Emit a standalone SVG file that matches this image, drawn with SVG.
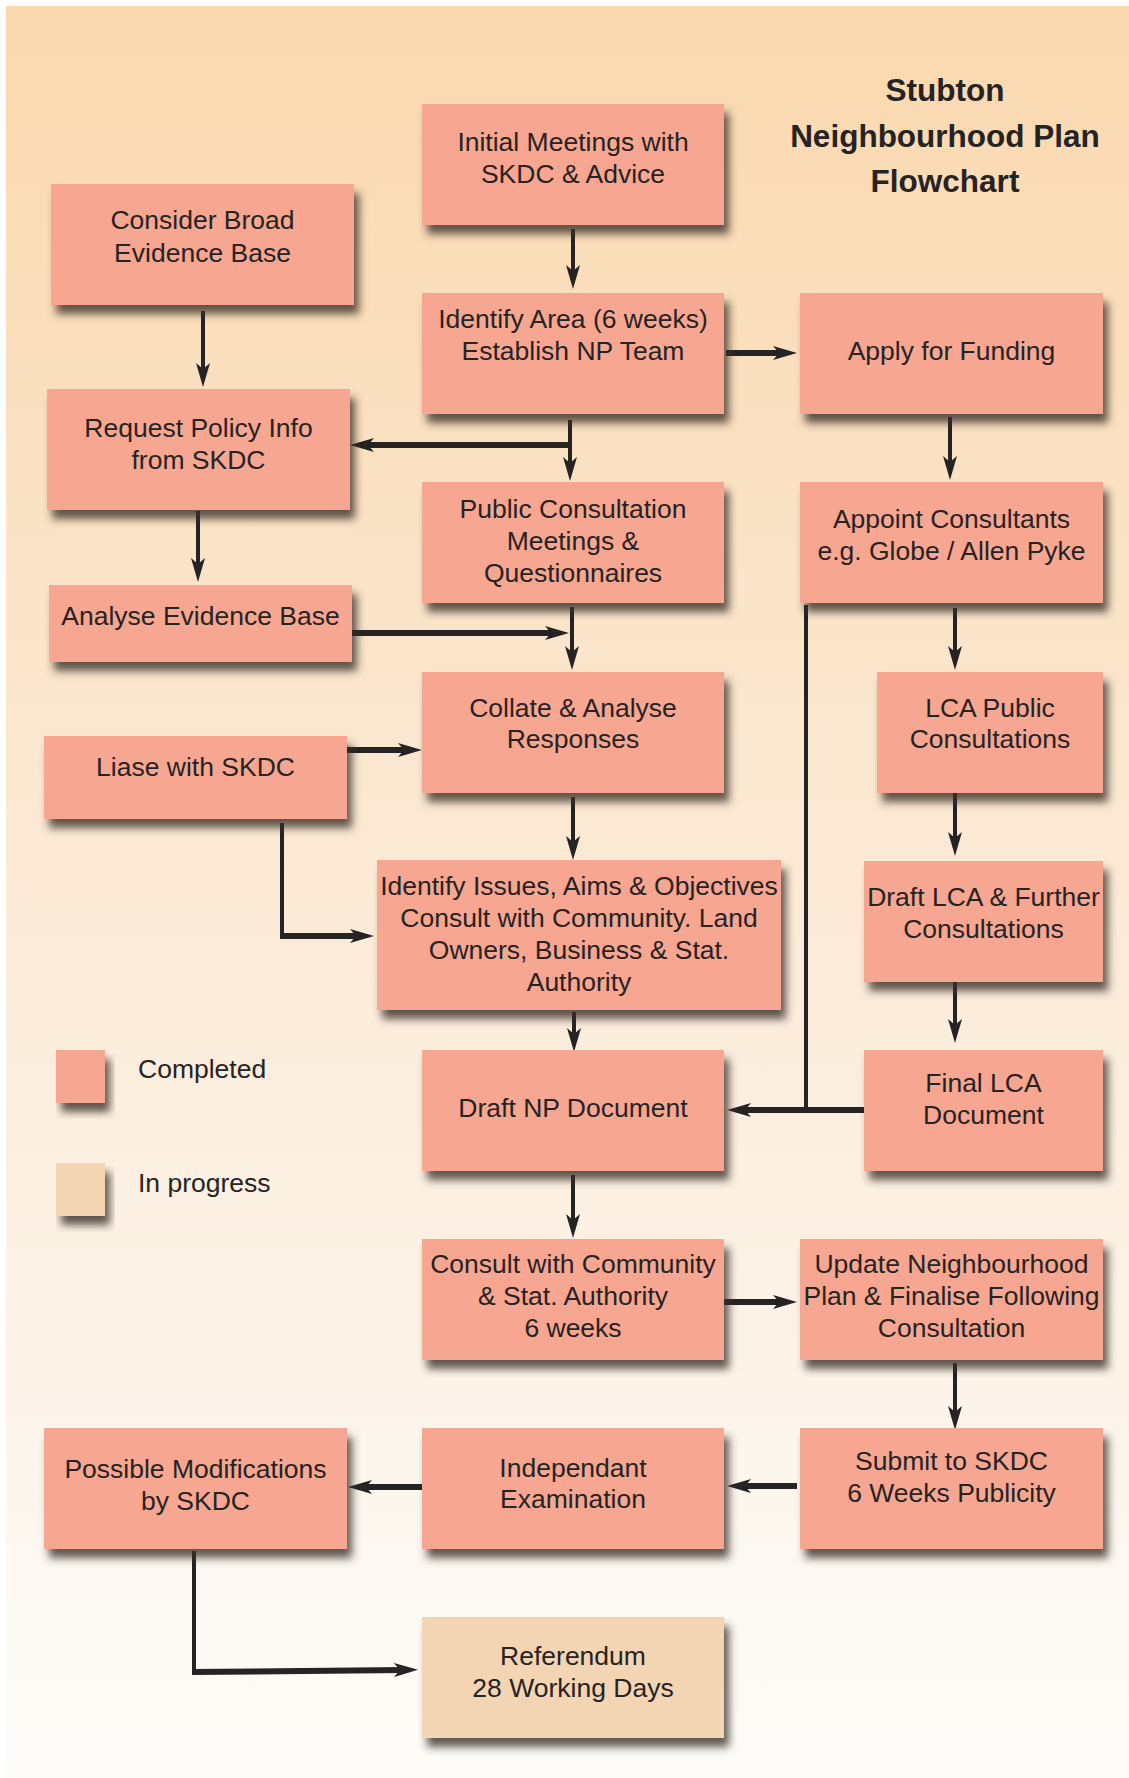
<svg xmlns="http://www.w3.org/2000/svg" width="1129" height="1778" viewBox="0 0 1129 1778">
<defs>
<linearGradient id="bg" x1="0" y1="0" x2="0" y2="1">
<stop offset="0" stop-color="#FAD8AE"/>
<stop offset="0.5" stop-color="#FBEAD6"/>
<stop offset="1" stop-color="#FDFCF9"/>
</linearGradient>
<filter id="sh" x="-10%" y="-10%" width="130%" height="140%">
<feGaussianBlur in="SourceAlpha" stdDeviation="4"/>
<feOffset dx="5" dy="9" result="b"/>
<feFlood flood-color="#3A2F28" flood-opacity="0.8"/>
<feComposite in2="b" operator="in" result="s"/>
<feMerge><feMergeNode in="s"/><feMergeNode in="SourceGraphic"/></feMerge>
</filter>
<marker id="arr" viewBox="0 0 24 14" refX="10" refY="7" markerWidth="24" markerHeight="14" markerUnits="userSpaceOnUse" orient="auto">
<path d="M0,0 L24,7 L0,14 L6,7 Z" fill="#262324"/>
</marker>
</defs>
<style>
.box{fill:#F7A791;filter:url(#sh)}
.prog{fill:#F3D5B3;filter:url(#sh)}
.t{font-family:"Liberation Sans",Arial,sans-serif;font-size:26.5px;fill:#262324;text-anchor:middle}
.lg{font-family:"Liberation Sans",Arial,sans-serif;font-size:26.5px;fill:#262324}
.title{font-family:"Liberation Sans",Arial,sans-serif;font-size:31.5px;font-weight:bold;fill:#262324;text-anchor:middle}
.thin{stroke:#262324;stroke-width:4;fill:none}
.thick{stroke:#262324;stroke-width:6;fill:none}
.ar{marker-end:url(#arr)}
</style>
<rect x="6" y="6" width="1123" height="1772" fill="url(#bg)"/>

<g id="title">
<text class="title" x="945" y="101">Stubton</text>
<text class="title" x="945" y="147">Neighbourhood Plan</text>
<text class="title" x="945" y="192">Flowchart</text>
</g>

<g id="connectors">
<path class="thin ar" d="M573,229 V275"/>
<path class="thin ar" d="M203,311 V373"/>
<path class="thick ar" d="M726,353 H783"/>
<path class="thin ar" d="M570,420 V467"/>
<path class="thick ar" d="M572,445 H364"/>
<path class="thin ar" d="M950,417 V466"/>
<path class="thin ar" d="M198,511 V568"/>
<path class="thin ar" d="M572,607 V656"/>
<path class="thick ar" d="M352,633 H555"/>
<path class="thin ar" d="M955,608 V656"/>
<path class="thin" d="M806,605 V1110"/>
<path class="thick ar" d="M864,1110 H741"/>
<path class="thick ar" d="M347,750 H408"/>
<path class="thin" d="M282,823 V937"/>
<path class="thick ar" d="M280,936 H360"/>
<path class="thin ar" d="M573,797 V846"/>
<path class="thin ar" d="M955,793 V842"/>
<path class="thin ar" d="M574,1012 V1038"/>
<path class="thin ar" d="M955,980 V1029"/>
<path class="thin ar" d="M573,1175 V1224"/>
<path class="thick ar" d="M724,1302 H783"/>
<path class="thin ar" d="M955,1363 V1416"/>
<path class="thick ar" d="M797,1486 H741"/>
<path class="thick ar" d="M422,1487 H362"/>
<path class="thin" d="M194,1551 V1673"/>
<path class="thick ar" d="M192,1672 L404,1670"/>
</g>

<g id="n-initial"><rect class="box" x="422" y="104" width="302" height="121"/>
<text class="t" x="573" y="151">Initial Meetings with</text><text class="t" x="573" y="183">SKDC &amp; Advice</text></g>

<g id="n-consider"><rect class="box" x="51" y="184" width="303" height="121"/>
<text class="t" x="202.5" y="229">Consider Broad</text><text class="t" x="202.5" y="262">Evidence Base</text></g>

<g id="n-identify-area"><rect class="box" x="422" y="293" width="302" height="121"/>
<text class="t" x="573" y="328">Identify Area (6 weeks)</text><text class="t" x="573" y="360">Establish NP Team</text></g>

<g id="n-funding"><rect class="box" x="800" y="293" width="303" height="121"/>
<text class="t" x="951.5" y="360">Apply for Funding</text></g>

<g id="n-request"><rect class="box" x="47" y="389" width="303" height="121"/>
<text class="t" x="198.5" y="437">Request Policy Info</text><text class="t" x="198.5" y="469">from SKDC</text></g>

<g id="n-public"><rect class="box" x="422" y="482" width="302" height="121"/>
<text class="t" x="573" y="518">Public Consultation</text><text class="t" x="573" y="550">Meetings &amp;</text><text class="t" x="573" y="582">Questionnaires</text></g>

<g id="n-appoint"><rect class="box" x="800" y="482" width="303" height="121"/>
<text class="t" x="951.5" y="528">Appoint Consultants</text><text class="t" x="951.5" y="560">e.g. Globe / Allen Pyke</text></g>

<g id="n-analyse"><rect class="box" x="49" y="585" width="303" height="77"/>
<text class="t" x="200.5" y="625">Analyse Evidence Base</text></g>

<g id="n-collate"><rect class="box" x="422" y="672" width="302" height="121"/>
<text class="t" x="573" y="717">Collate &amp; Analyse</text><text class="t" x="573" y="748">Responses</text></g>

<g id="n-lca-public"><rect class="box" x="877" y="672" width="226" height="121"/>
<text class="t" x="990" y="717">LCA Public</text><text class="t" x="990" y="748">Consultations</text></g>

<g id="n-liase"><rect class="box" x="44" y="736" width="303" height="83"/>
<text class="t" x="195.5" y="776">Liase with SKDC</text></g>

<g id="n-issues"><rect class="box" x="377" y="860" width="404" height="150"/>
<text class="t" x="579" y="895">Identify Issues, Aims &amp; Objectives</text><text class="t" x="579" y="927">Consult with Community. Land</text><text class="t" x="579" y="959">Owners, Business &amp; Stat.</text><text class="t" x="579" y="991">Authority</text></g>

<g id="n-draft-lca"><rect class="box" x="864" y="861" width="239" height="121"/>
<text class="t" x="983.5" y="906">Draft LCA &amp; Further</text><text class="t" x="983.5" y="938">Consultations</text></g>

<g id="n-draft-np"><rect class="box" x="422" y="1050" width="302" height="121"/>
<text class="t" x="573" y="1117">Draft NP Document</text></g>

<g id="n-final-lca"><rect class="box" x="864" y="1050" width="239" height="121"/>
<text class="t" x="983.5" y="1092">Final LCA</text><text class="t" x="983.5" y="1124">Document</text></g>

<g id="n-consult"><rect class="box" x="422" y="1239" width="302" height="121"/>
<text class="t" x="573" y="1273">Consult with Community</text><text class="t" x="573" y="1305">&amp; Stat. Authority</text><text class="t" x="573" y="1337">6 weeks</text></g>

<g id="n-update"><rect class="box" x="800" y="1239" width="303" height="121"/>
<text class="t" x="951.5" y="1273">Update Neighbourhood</text><text class="t" x="951.5" y="1305">Plan &amp; Finalise Following</text><text class="t" x="951.5" y="1337">Consultation</text></g>

<g id="n-mods"><rect class="box" x="44" y="1428" width="303" height="121"/>
<text class="t" x="195.5" y="1478">Possible Modifications</text><text class="t" x="195.5" y="1510">by SKDC</text></g>

<g id="n-indep"><rect class="box" x="422" y="1428" width="302" height="121"/>
<text class="t" x="573" y="1477">Independant</text><text class="t" x="573" y="1508">Examination</text></g>

<g id="n-submit"><rect class="box" x="800" y="1428" width="303" height="121"/>
<text class="t" x="951.5" y="1470">Submit to SKDC</text><text class="t" x="951.5" y="1502">6 Weeks Publicity</text></g>

<g id="n-referendum"><rect class="prog" x="422" y="1617" width="302" height="121"/>
<text class="t" x="573" y="1665">Referendum</text><text class="t" x="573" y="1697">28 Working Days</text></g>

<g id="legend-completed"><rect class="box" x="56" y="1050" width="49" height="53"/>
<text class="lg" x="138" y="1078">Completed</text></g>
<g id="legend-progress"><rect class="prog" x="56" y="1163" width="49" height="53"/>
<text class="lg" x="138" y="1192">In progress</text></g>
</svg>
